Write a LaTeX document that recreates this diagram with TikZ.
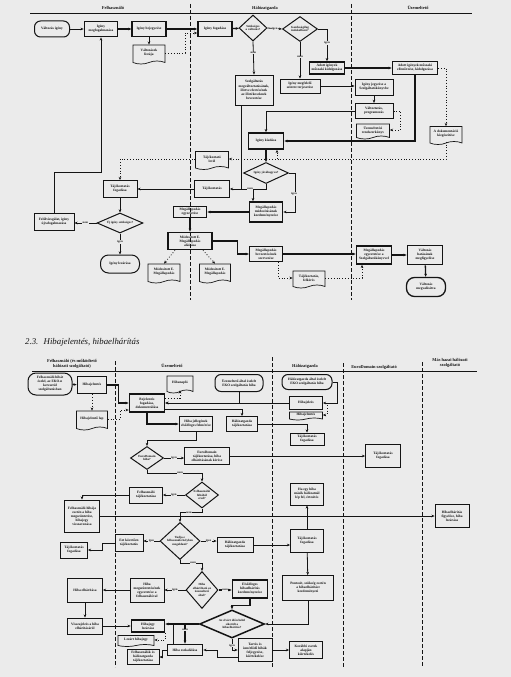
\documentclass[tikz,border=0pt]{standalone}
\usepackage{fontspec}
\setmainfont{Liberation Serif}
\usetikzlibrary{arrows.meta,shapes.geometric,shapes.symbols,calc}
\definecolor{bg}{gray}{0.92}
\definecolor{ink}{gray}{0.08}
\tikzset{
 base/.style={draw=ink, align=center, inner sep=0.3pt, font=\fontsize{3.5}{4.1}\selectfont\bfseries, text=ink},
 box/.style={base, rectangle, line width=0.8pt},
 tbox/.style={base, rectangle, line width=1.6pt},
 term/.style={base, rectangle, rounded corners=6pt, line width=1pt},
 doc/.style={base, tape, tape bend top=none, tape bend height=3pt, line width=0.7pt},
 dia/.style={draw=ink, diamond, inner sep=0pt, line width=1pt,
   label={[font=\fontsize{3.1}{3.6}\selectfont\bfseries, text=ink, align=center]center:#1}},
 ar/.style={-{Stealth[length=3.2pt,width=2.6pt]}, line width=0.8pt, draw=ink},
 tar/.style={ar, line width=1.3pt},
 dar/.style={ar, dotted, line width=0.8pt},
 pl/.style={line width=0.8pt, draw=ink},
 lab/.style={font=\fontsize{3}{3.5}\selectfont\bfseries, fill=bg, inner sep=0.3pt, text=ink},
 head/.style={font=\fontsize{4.4}{5}\selectfont\bfseries, text=ink, align=center, inner sep=0pt},
 lane/.style={dash pattern=on 4pt off 2pt, line width=1pt, draw=ink},
}
\begin{document}
\begin{tikzpicture}[x=1pt,y=-1pt]
\path[use as bounding box, fill=bg] (0,0) rectangle (511,677);

%================ TOP DIAGRAM =================
\node[head] (h1) at (113,8) {Felhasználó};
\node[head] (h2) at (265,8) {Hálózatgazda};
\node[head] (h3) at (418,8) {Üzemeltető};
\coordinate (hl1) at (30,14); \coordinate (hl2) at (472,14);
\draw[line width=1pt, ink] (hl1) -- (hl2);
\coordinate (v1a) at (190,4); \coordinate (v1b) at (190,300);
\coordinate (v2a) at (351,4); \coordinate (v2b) at (351,300);
\draw[lane] (v1a) -- (v1b);
\draw[lane] (v2a) -- (v2b);

\node[term, minimum width=35pt, minimum height=16pt] (t1) at (52,29) {Változás igény};
\node[tbox, minimum width=33pt, minimum height=15pt] (n1) at (101,29) {Igény\\megfogalmazása};
\node[box, line width=1.1pt, minimum width=34pt, minimum height=15pt] (n2) at (149,29) {Igény bejegyzése};
\node[doc, minimum width=32pt, minimum height=19pt] (d1) at (149,53) {Változások\\listája};
\node[tbox, minimum width=34pt, minimum height=15pt] (n3) at (215,29) {Igény fogadása};
\node[dia={Szükséges\\a változás?}, minimum width=28pt, minimum height=26pt] (dia1) at (253,28) {};
\node[dia={Gazdaságilag\\indokolható?}, minimum width=35pt, minimum height=25pt] (dia2) at (300,29) {};
\node[box, minimum width=38pt, minimum height=30pt] (n4) at (254,90) {Szolgáltatás\\megváltoztatásának,\\illetve elvetésének\\az illetékeseknek\\bevezetése};
\node[tbox, minimum width=35pt, minimum height=12pt] (n5) at (327,68) {Adott igények\\műszaki kidolgozása};
\node[box, minimum width=40pt, minimum height=14pt] (n6) at (300,86) {Igény megfelelő\\szintre terjesztése};
\node[tbox, minimum width=45pt, minimum height=13pt] (n7) at (415,68) {Adott igények műszaki\\ellenőrzése, kidolgozása};
\node[box, minimum width=38pt, minimum height=16pt] (n8) at (374,87) {Igény jegyzése a\\Szolgáltatókönyvbe};
\node[box, line width=1pt, minimum width=38pt, minimum height=15pt] (n9) at (374,111) {Változtatás,\\programozás};
\node[doc, minimum width=33pt, minimum height=15pt] (d2) at (373,130) {Üzemeltetési\\rendszerkönyv};
\node[doc, minimum width=32pt, minimum height=18pt] (d3) at (446,134) {A dokumentáció\\kiegészítése};
\node[tbox, minimum width=35pt, minimum height=16pt] (n10) at (266,141) {Igény kiadása};
\node[dia={Igény jóváhagyva?}, minimum width=45pt, minimum height=21pt] (dia3) at (266,173) {};
\node[doc, minimum width=33pt, minimum height=18pt] (d4) at (212,159) {Tájékoztató\\levél};
\node[box, minimum width=35pt, minimum height=17pt] (n11) at (212,189) {Tájékoztatás};
\node[box, minimum width=34pt, minimum height=17pt] (n12) at (120,189) {Tájékoztatás\\fogadása};
\node[tbox, minimum width=33pt, minimum height=20pt] (n13) at (266,212) {Megállapodás\\módosításának\\kezdeményezése};
\node[tbox, minimum width=33pt, minimum height=11pt] (n14) at (190,212) {Megállapodás\\egyeztetése};
\node[dia={Új igény szükséges?}, minimum width=46pt, minimum height=20pt] (dia4) at (120,223) {};
\node[box, minimum width=40pt, minimum height=17pt] (n15) at (54,222) {Felülvizsgálat, igény\\újrafogalmazása};
\node[term, minimum width=39pt, minimum height=18pt, rounded corners=8pt] (t2) at (120,264) {Igény lezárása};
\node[tbox, minimum width=44pt, minimum height=17pt] (n16) at (190,241) {Módosított E.\\Megállapodás\\aláírása};
\node[doc, minimum width=32pt, minimum height=19pt] (d5) at (164,272) {Módosított E.\\Megállapodás};
\node[doc, minimum width=31pt, minimum height=19pt] (d6) at (215,272) {Módosított E.\\Megállapodás};
\node[box, line width=1.1pt, minimum width=33pt, minimum height=15pt] (n17) at (266,254) {Megállapodás\\bevezetésének\\szervezése};
\node[doc, minimum width=32pt, minimum height=17pt] (d7) at (309,278) {Tájékoztatás,\\felkérés};
\node[tbox, minimum width=35pt, minimum height=18pt] (n18) at (374,255) {Megállapodás\\egyeztetése a\\Szolgáltatókönyvvel};
\node[tbox, minimum width=35pt, minimum height=19pt] (n19) at (425,255) {Változás\\hatásának\\megfigyelése};
\node[term, minimum width=39pt, minimum height=19pt, rounded corners=8pt, line width=1.3pt] (t3) at (426,287) {Változás\\megvalósítva};

\draw[ar] (t1) -- (n1);
\draw[tar] (n1) -- (n2);
\draw[tar] (n2) -- (n3);
\draw[ar] (n2) -- (d1);
\coordinate (c1) at (185,33);
\draw[dar] (d1.east) -| (c1) -- (c1 -| n3.west);
\draw[tar] (n3) -- (dia1);
\draw[ar] (dia1.east) -- node[lab] (l1) {igen} (dia2.west);
\draw[ar] (dia1.south) -- node[lab, pos=0.35] (l2) {nem} (n4.north);
\draw[ar] (dia2.east) -| node[lab, pos=0.72] (l3) {igen} (n5.north);
\draw[ar] (dia2.south) -- node[lab, pos=0.4] (l4) {nem} (n6.north);
\draw[tar] (n5) -- (n7);
\draw[ar] (n6.east) -- (n6.east -| n8.west);
\draw[ar] (n8) -- (n9);
\draw[dar] (n9.east) -- ++(7,0) |- (d2.east);
\draw[ar] (n9.west) -| (n10.north);
\draw[tar] (n7.south) |- (n10.east);
\draw[dar] (n7.east) -| (d3.north);
\draw[dar] (d3.south) |- (d4.east);
\coordinate (c3) at (277,159);
\draw[dar] (c3) -- (c3 |- n10.south);
\draw[dar] (d4.west) -| (n12.north);
\draw[tar] (n10) -- (dia3);
\draw[ar] (dia3.south) |- node[lab, pos=0.72] (l5) {nem} (n11.east);
\coordinate (c4) at (241,189);
\draw[pl] (c4 |- n4.south) -- (c4);
\coordinate (c5) at (253,189);
\draw[ar] (c5) -- (c5 |- n13.north);
\draw[ar] (dia3.east) -- ++(6,0) |- (n13.east);
\node[lab] (l6) at (294,194) {igen};
\draw[tar] (n13.west) -- (n13.west -| n14.east);
\draw[tar] (n14) -- (n16);
\draw[ar] (n11) -- (n12);
\draw[ar] (n12) -- (dia4);
\draw[ar] (dia4.west) -- node[lab] (l7) {nem} (dia4.west -| n15.east);
\draw[ar] (dia4.south) -- node[lab, pos=0.4] (l8) {igen} (t2.north);
\coordinate (c6) at (101,172);
\draw[ar] (n15.north) |- (c6) -- (n1.south);
\draw[dar] ($(n16.south)+(-15,0)$) -- (d5.north);
\draw[dar] ($(n16.south)+(13,0)$) -- (d6.north);
\draw[tar] (n16.east) -- ++(25,0) |- (n17.west);
\draw[tar] (n17.east) -- (n17.east -| n18.west);
\draw[tar] (n18) -- (n19);
\draw[tar] (n19) -- (t3);
\draw[dar] ($(n17.south)+(12,0)$) |- (d7.west);
\draw[dar] (d7.east) -| ($(n18.south)+(-12,0)$);

%================ BOTTOM DIAGRAM =================
\node[font=\fontsize{8.8}{10}\selectfont\itshape, text=ink, anchor=west, inner sep=0pt] (title) at (25,342) {2.3.\hspace{0.6em}Hibajelentés, hibaelhárítás};
\node[head] (g1) at (72,364) {Felhasználó (és működtető\\hálózati szolgáltató)};
\node[head] (g2) at (172,366) {Üzemeltető};
\node[head] (g3) at (305,366) {Hálózatgazda};
\node[head] (g4) at (374,367) {EuroDomain szolgáltató};
\node[head] (g5) at (450,363) {Más hazai hálózati\\szolgáltató};
\coordinate (gl1) at (32,371); \coordinate (gl2) at (477,371);
\draw[line width=1pt, ink] (gl1) -- (gl2);
\coordinate (w1a) at (115,361); \coordinate (w1b) at (115,667);
\coordinate (w2a) at (272,357); \coordinate (w2b) at (272,667);
\coordinate (w3a) at (343,363); \coordinate (w3b) at (343,667);
\coordinate (w4a) at (422,362); \coordinate (w4b) at (422,667);
\draw[lane] (w1a) -- (w1b);
\draw[lane] (w2a) -- (w2b);
\draw[lane] (w3a) -- (w3b);
\draw[lane] (w4a) -- (w4b);

\node[term, minimum width=44pt, minimum height=22pt, rounded corners=8pt] (b1) at (50,384) {Felhasználó hibát\\észlel, az EKO-n\\keresztül\\szolgáltatásban};
\node[tbox, minimum width=29pt, minimum height=17pt] (b2) at (92,385) {Hibajelentés};
\node[doc, minimum width=31pt, minimum height=19pt] (bd1) at (92,419) {Hibajelentő lap};
\node[tbox, minimum width=35pt, minimum height=18pt] (b3) at (147,403) {Bejelentés\\fogadása,\\dokumentálása};
\node[doc, minimum width=26pt, minimum height=17pt] (bd2) at (180,383) {Hibanapló};
\node[term, minimum width=48pt, minimum height=17pt] (b4) at (239,383) {Üzemeltető által észlelt\\EKO szolgáltatás hiba};
\node[term, minimum width=50pt, minimum height=15pt] (b5) at (307,382) {Hálózatgazda által észlelt\\EKO szolgáltatás hiba};
\node[box, minimum width=33pt, minimum height=13pt] (b6) at (306,403) {Hibajelzés};
\node[doc, minimum width=33pt, minimum height=8pt, tape bend height=2pt] (bd3) at (306,415) {Hibajelentés};
\node[tbox, minimum width=33pt, minimum height=15pt] (b7) at (196,424) {Hiba jellegének\\elsődleges felmérése};
\node[box, minimum width=31pt, minimum height=15pt] (b8) at (242,424) {Hálózatgazda\\tájékoztatása};
\node[box, minimum width=34pt, minimum height=12pt] (b9) at (307,439) {Tájékoztatás\\fogadása};
\node[dia={EuroDomain\\hiba?}, minimum width=33pt, minimum height=23pt] (bdia1) at (147,458) {};
\node[box, minimum width=45pt, minimum height=17pt] (b10) at (207,456) {EuroDomain\\tájékoztatása, hiba\\elhárításának kérése};
\node[box, minimum width=35pt, minimum height=23pt] (b11) at (383,456) {Tájékoztatás\\fogadása};
\node[dia={Felhasználói\\hibából\\ered?}, minimum width=33pt, minimum height=26pt] (bdia2) at (202,495) {};
\node[box, minimum width=33pt, minimum height=16pt] (b12) at (146,495) {Felhasználó\\tájékoztatása};
\node[box, minimum width=35pt, minimum height=32pt] (b13) at (82,516) {Felhasználó hibája\\esetén a hiba\\megszüntetése,\\hibajegy\\visszavonása};
\node[box, minimum width=33pt, minimum height=22pt] (b14) at (307,494) {Ha egy hiba\\másik hálózatnál\\lép fel, értesítés};
\node[box, minimum width=34pt, minimum height=23pt] (b15) at (452,516) {Hibaelhárítás\\figyelése, hiba\\lezárása};
\node[dia={Tudja-e\\felhasználó helyben\\megoldani?}, minimum width=40pt, minimum height=37pt] (bdia3) at (180,541) {};
\node[box, minimum width=28pt, minimum height=17pt] (b16) at (129,543) {Ezt követően\\tájékoztatás};
\node[box, minimum width=27pt, minimum height=16pt] (b17) at (74,550) {Tájékoztatás\\fogadása};
\node[box, minimum width=36pt, minimum height=15pt] (b18) at (235,545) {Hálózatgazda\\tájékoztatása};
\node[box, minimum width=33pt, minimum height=23pt] (b19) at (307,541) {Tájékoztatás\\fogadása};
\node[dia={Hiba\\elhárítható az\\üzemeltető\\által?}, minimum width=32pt, minimum height=37pt] (bdia4) at (202,590) {};
\node[box, minimum width=34pt, minimum height=24pt] (b20) at (147,590) {Hiba\\megszüntetésének\\egyeztetése a\\felhasználóval};
\node[box, minimum width=35pt, minimum height=24pt] (b21) at (85,590) {Hiba elhárítása};
\node[tbox, minimum width=35pt, minimum height=18pt] (b22) at (250,589) {Elsődleges\\hibaelhárítás\\kezdeményezése};
\node[box, minimum width=51pt, minimum height=25pt] (b23) at (308,588) {Pontosít, szükség esetén\\a hibaelhárítást\\kezdeményezi};
\node[box, minimum width=35pt, minimum height=16pt] (b24) at (85,626) {Visszajelzés a hiba\\elhárításáról};
\node[tbox, minimum width=33pt, minimum height=12pt] (b25) at (148,626) {Hibajegy\\lezárása};
\node[dia={Az elvárt időn belül\\sikerült a\\hibaelhárítás?}, line width=1.5pt, minimum width=65pt, minimum height=28pt] (bdia5) at (232,624) {};
\node[doc, minimum width=36pt, minimum height=11pt, tape bend height=2pt] (bd4) at (136,640) {Lezárt hibajegy};
\node[tbox, minimum width=35pt, minimum height=11pt] (b26) at (185,650) {Hiba eszkalálása};
\node[box, minimum width=32pt, minimum height=15pt] (b27) at (143,657) {Felhasználók és\\hálózatgazda\\tájékoztatása};
\node[box, minimum width=34pt, minimum height=23pt] (b28) at (255,650) {Tartós és\\ismétlődő hibák\\feljegyzése,\\kiértékelése};
\node[box, minimum width=33pt, minimum height=17pt] (b29) at (306,650) {Korábbi esetek\\alapján\\kiértékelés};

\draw[ar] (b1) -- (b2);
\draw[dar] (b2) -- (bd1);
\draw[dar] (bd1.east) -| ($(b3.west)+(-8,7)$) -- ($(b3.west)+(0,7)$);
\draw[tar] (b2.east) -- ++(11,0) |- (b3.west);
\draw[dar] ($(b3.east)+(0,-5)$) -| (bd2.south);
\draw[ar] (b4.south) |- (b3.east);
\draw[ar] (b6.west) -- (b6.west -| b3.east);
\draw[ar] (b5.east) -- ++(5,0) |- (b6.east);
\draw[dar] ($(b6.east)+(4,2)$) |- (bd3.east);
\draw[ar] ($(b3.east)+(0,6)$) -| (b8.north);
\draw[ar] (b8.east) -| (b9.north);
\draw[tar] (b3.south) |- (b7.west);
\draw[ar] (b7.south) -- ++(0,8) -| (bdia1.north);
\draw[ar] (bdia1.east) -- node[lab] (m1) {igen} (bdia1.east -| b10.west);
\draw[ar] (b10.east) -- (b10.east -| b11.west);
\draw[ar] (bdia1.south) -- ++(0,3) -| node[lab, pos=0.3] (m2) {nem} (bdia2.north);
\draw[ar] (bdia2.west) -- node[lab] (m3) {igen} (bdia2.west -| b12.east);
\draw[ar] (b12.west) -| (b13.north);
\draw[ar] (b13.east) -- (b13.east -| b15.west);
\draw[ar] (bdia2.south) -- ++(0,4) -| node[lab, pos=0.3] (m4) {nem} (bdia3.north);
\draw[ar] (bdia3.west) -- node[lab] (m5) {igen} (bdia3.west -| b16.east);
\draw[ar] (b16.west) -- ++(-12,0) |- (b17.east);
\draw[ar] (bdia3.east) -- node[lab] (m6) {igen} (bdia3.east -| b18.west);
\draw[ar] (b18.east) -- (b18.east -| b19.west);
\draw[ar] (b19) -- (b14);
\draw[ar] (b19) -- (b23);
\draw[ar] (bdia3.south) -- ++(0,3) -| node[lab, pos=0.3] (m7) {nem} (bdia4.north);
\draw[ar] (bdia4.west) -- node[lab] (m8) {igen} (b20.east);
\draw[ar] (b20) -- (b21);
\draw[ar] (b21) -- (b24);
\draw[ar] (b24.east) -- (b24.east -| b25.west);
\draw[tar] (bdia4.east) -- node[lab] (m9) {nem} (bdia4.east -| b22.west);
\draw[tar] (b22.south) -- ++(0,7) -| (bdia5.north);
\draw[ar] (b23.south) |- (bdia5.east);
\draw[tar] (bdia5.west) -- (bdia5.west -| b25.east);
\coordinate (k1) at (185,624);
\draw[tar] (k1) -- node[lab, pos=0.3] (m10) {nem} (k1 |- b26.north);
\coordinate (k2) at (173,624);
\draw[pl] (k2 |- b26.north) -- (k2);
\draw[ar] (bdia5.south) |- node[lab, pos=0.3] (m11) {igen} (b28.west);
\draw[ar] (b28) -- (b29);
\draw[ar] ($(b28.west)+(0,7)$) -- ++(-20,0) |- (b26.east);
\draw[dar] (b25.south east) |- (bd4.east);
\draw[ar] (b26.west) -- ++(-4,0) |- (b27.east);

\end{tikzpicture}
\end{document}
